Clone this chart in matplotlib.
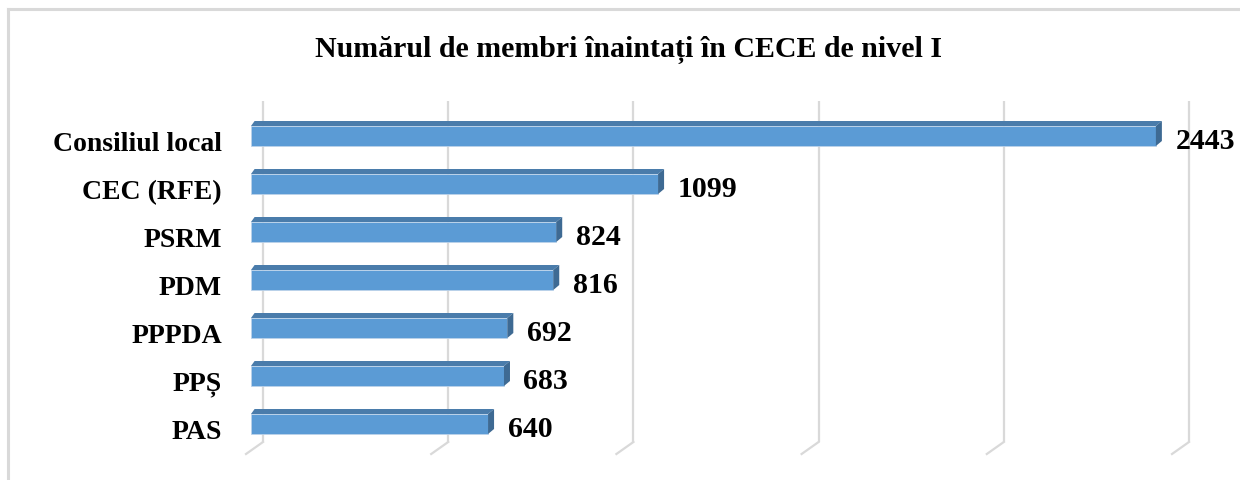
import numpy as np
import matplotlib
matplotlib.use("Agg")
import matplotlib.pyplot as plt
from matplotlib.patches import Polygon
from matplotlib.lines import Line2D

# data, top to bottom
categories = ["Consiliul local", "CEC (RFE)", "PSRM", "PDM", "PPPDA", "PPȘ", "PAS"]
values = [2443, 1099, 824, 816, 692, 683, 640]
title = "Numărul de membri înaintați în CECE de nivel I"
grid_ticks = [0, 500, 1000, 1500, 2000, 2500]

W, H, DPI = 1240, 481, 100
front = "#5b9bd5"
top_c = "#4a7cab"
side_c = "#3e6a93"
grid_c = "#d9d9d9"
font = "Liberation Serif"

plt.rcParams["font.family"] = [font, "DejaVu Serif"]
plt.rcParams["font.weight"] = "bold"

fig = plt.figure(figsize=(W / DPI, H / DPI), dpi=DPI)

# axes placed in pixels: value 0 at x=251, 500 units ~ 185 px
px_per_unit = 0.3704
ax_left, ax_top, ax_bot = 251, 102, 443
xmax = 2500
ax = fig.add_axes([ax_left / W, 1 - ax_bot / H,
                   xmax * px_per_unit / W, (ax_bot - ax_top) / H])
row_px = 48.0
ytop = -(137 - ax_top) / row_px
ybot = len(categories) - 1 + (ax_bot - 425) / row_px
ax.set_xlim(0, xmax)
ax.set_ylim(ybot, ytop)
ax.axis("off")

# 3D depth offsets in data units
wall_dx = 12 / px_per_unit
floor_dx = 17 / px_per_unit
floor_dy = 12 / row_px
bar_dx = 6 / px_per_unit
bar_dy = 5 / row_px
bar_h = 20 / row_px

# back wall gridlines + floor lines
for g in grid_ticks:
    ax.plot([g + wall_dx, g + wall_dx], [ytop, ybot], color=grid_c, lw=1.6,
            clip_on=False, zorder=0, solid_capstyle="butt")
    ax.plot([g + wall_dx, g + wall_dx - floor_dx], [ybot, ybot + floor_dy],
            color=grid_c, lw=1.6, clip_on=False, zorder=0)

ypos = np.arange(len(categories))
ax.barh(ypos, values, height=bar_h, color=front, zorder=2,
        edgecolor="#bcd3ea", linewidth=0.6)
for y, v in zip(ypos, values):
    yt = y - bar_h / 2
    yb = y + bar_h / 2
    ax.add_patch(Polygon([(0, yt), (v, yt), (v + bar_dx, yt - bar_dy), (bar_dx * 0.6, yt - bar_dy)],
                         closed=True, facecolor=top_c, edgecolor="none", zorder=2, clip_on=False))
    ax.add_patch(Polygon([(v, yt), (v + bar_dx, yt - bar_dy), (v + bar_dx, yb - bar_dy), (v, yb)],
                         closed=True, facecolor=side_c, edgecolor="none", zorder=2, clip_on=False))
    ax.annotate(str(v), (v, y), xytext=(14, -3), textcoords="offset points",
                ha="left", va="center", fontsize=21.5, fontweight="bold", annotation_clip=False)

for y, c in zip(ypos, categories):
    ax.annotate(c, (0, y), xycoords=("axes fraction", "data"), xytext=(-21, -5.5),
                textcoords="offset points", ha="right", va="center",
                fontsize=20, fontweight="bold", annotation_clip=False)

fig.text(629 / W, 1 - 50 / H, title, ha="center", va="center",
         fontsize=21.5, fontweight="bold")

# chart frame (top and left edges visible)
fig.add_artist(Line2D([8 / W, 1], [1 - 10 / H, 1 - 10 / H], color=grid_c, lw=2.2))
fig.add_artist(Line2D([8 / W, 8 / W], [0, 1 - 10 / H], color=grid_c, lw=2.2))

fig.savefig("out.png", dpi=DPI, facecolor="white")
